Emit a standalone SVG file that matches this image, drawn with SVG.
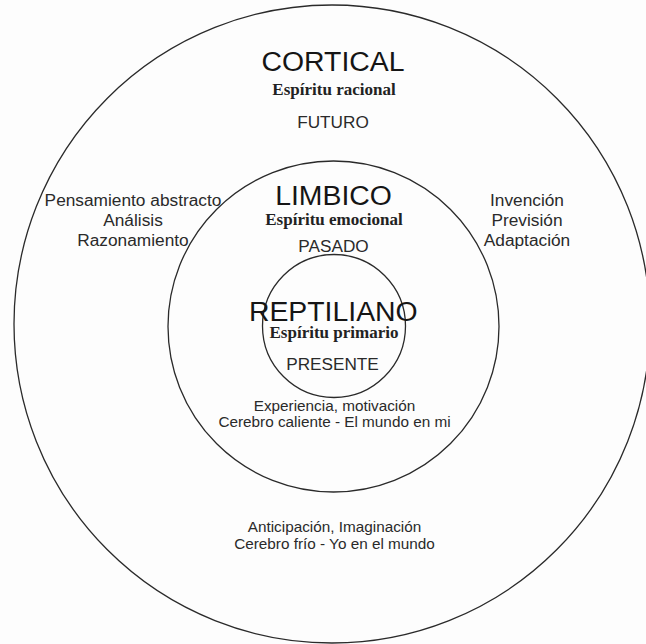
<svg xmlns="http://www.w3.org/2000/svg" width="646" height="644" viewBox="0 0 646 644">
<style>
.ring{fill:none;stroke:#2a2a2a;stroke-width:1.3}
.title{font-family:"Liberation Sans",Arial,sans-serif;font-size:28.4px;fill:#151515;text-anchor:middle}
.spirit{font-family:"Liberation Serif","Times New Roman",serif;font-weight:bold;font-size:17px;fill:#222;text-anchor:middle}
.time{font-family:"Liberation Sans",Arial,sans-serif;font-size:17.2px;fill:#2a2a2a;text-anchor:middle}
.side{font-family:"Liberation Sans",Arial,sans-serif;font-size:17.3px;fill:#2a2a2a;text-anchor:middle}
.small{font-family:"Liberation Sans",Arial,sans-serif;font-size:15.3px;fill:#2a2a2a;text-anchor:middle}
</style>
<rect width="646" height="644" fill="#fdfdfd"/>
<g id="cortical">
  <ellipse class="ring" cx="332" cy="324" rx="318" ry="319"/>
  <text class="title" x="333" y="71">CORTICAL</text>
  <text class="spirit" x="334" y="95">Espíritu racional</text>
  <text class="time" x="333" y="127.5">FUTURO</text>
  <text class="side" x="133" y="206">Pensamiento abstracto</text>
  <text class="side" x="133" y="226">Análisis</text>
  <text class="side" x="133" y="246">Razonamiento</text>
  <text class="side" x="527" y="206">Invención</text>
  <text class="side" x="527" y="226">Previsión</text>
  <text class="side" x="527" y="246">Adaptación</text>
  <text class="small" x="334.5" y="532">Anticipación, Imaginación</text>
  <text class="small" x="334.5" y="549">Cerebro frío - Yo en el mundo</text>
</g>
<g id="limbico">
  <circle class="ring" cx="333.5" cy="326.5" r="165.5"/>
  <text class="title" x="333.5" y="205">LIMBICO</text>
  <text class="spirit" x="334" y="225">Espíritu emocional</text>
  <text class="time" x="333.5" y="252">PASADO</text>
  <text class="small" x="334.5" y="411">Experiencia, motivación</text>
  <text class="small" x="334.5" y="427">Cerebro caliente - El mundo en mi</text>
</g>
<g id="reptiliano">
  <circle class="ring" cx="334" cy="326" r="71.5"/>
  <text class="title" x="333.3" y="320.7">REPTILIANO</text>
  <text class="spirit" x="334" y="338">Espíritu primario</text>
  <text class="time" x="332.5" y="370">PRESENTE</text>
</g>
</svg>
